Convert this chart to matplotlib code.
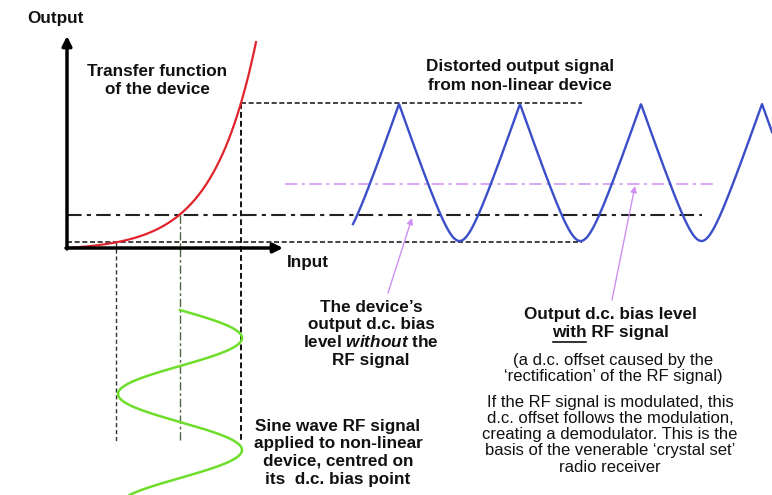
import numpy as np
import matplotlib.pyplot as plt

plt.rcParams['font.family'] = ['Liberation Sans', 'DejaVu Sans']
plt.rcParams['mathtext.fontset'] = 'custom'
plt.rcParams['mathtext.it'] = 'Liberation Sans:bold:italic'

# diagram geometry (pixel units, y grows downward)
axis_origin = (67, 248)
output_axis_top = 36
input_axis_end = 283

# transfer function: exponential through the three marked points
input_points = [116, 180, 241]          # bias - A, bias, bias + A
output_levels = [242, 215, 103]         # matching outputs
tf_gain = 2.7
tf_rate = 0.023
tf_end_x = 256

# RF input sine (drawn vertically below the input axis)
rf_start_y = 310
rf_period = 112
rf_amp = 62

# distorted output wave
out_start_x = 353
out_first_peak = 399
out_period = 121
out_peak_y = 104
out_trough_y = 241
avg_level = 184

guide_bottom = 442
dash_right = 582
dashdot_right = 702
avg_left, avg_right = 285, 713

red = '#e0242c'
blue = '#3a4ec8'
green = '#6ede2a'
violet = '#cf8ff0'

fig = plt.figure(figsize=(7.72, 4.95), dpi=100)
ax = fig.add_axes([0, 0, 1, 1])
ax.set_xlim(0, 772)
ax.set_ylim(495, 0)
ax.axis('off')

x0, y0 = axis_origin
x_lo, x_bias, x_hi = input_points
y_bot, y_bias, y_top = output_levels

# guide lines
ax.plot([x_hi, dash_right], [y_top, y_top], color='#222222', lw=1.2, ls=(0, (3, 1.6)))
ax.plot([x0, dash_right], [y_bot, y_bot], color='#222222', lw=1.2, ls=(0, (3, 1.6)))
ax.plot([x0, dashdot_right], [y_bias, y_bias], color='#222222', lw=1.5, ls=(0, (7, 2.5, 2, 2.5)))
ax.plot([avg_left, avg_right], [avg_level, avg_level], color=violet, lw=1.1, ls=(0, (8, 3, 2, 3)))
ax.plot([x_lo, x_lo], [y_bot, guide_bottom], color='#333333', lw=1.0, ls=(0, (3, 2)))
ax.plot([x_bias, x_bias], [y_bias, guide_bottom], color='#4d6640', lw=1.0, ls=(0, (6, 2, 2, 2)))
ax.plot([x_hi, x_hi], [y_top, guide_bottom], color='#111111', lw=1.4, ls=(0, (3, 1.6)))

# transfer function
tx = np.linspace(x0, tf_end_x, 200)
ty = y0 - tf_gain * (np.exp(tf_rate * (tx - x0)) - 1)
ax.plot(tx, ty, color=red, lw=1.6)

# RF sine wave
ry = np.linspace(rf_start_y, 495, 300)
rx = x_bias + rf_amp * np.sin(2 * np.pi * (ry - rf_start_y) / rf_period)
ax.plot(rx, ry, color=green, lw=1.8)

# distorted output: sharp peaks, rounded troughs
bx = np.linspace(out_start_x, 772, 800)
t = np.abs(((bx - out_first_peak) / out_period + 0.5) % 1 - 0.5) * 2
d = 1 - t
e = 0.25
h = (np.sqrt(d ** 2 + e ** 2) - e) / (np.sqrt(1 + e ** 2) - e)
by = out_trough_y - (out_trough_y - out_peak_y) * h
ax.plot(bx, by, color=blue, lw=1.7)

# axes with arrows
ax.annotate('', xy=(x0, output_axis_top), xytext=(x0, y0 + 1),
            arrowprops=dict(arrowstyle='-|>', color='black', lw=2.5, mutation_scale=14, shrinkA=0, shrinkB=0))
ax.annotate('', xy=(input_axis_end, y0), xytext=(x0 - 1, y0),
            arrowprops=dict(arrowstyle='-|>', color='black', lw=2.5, mutation_scale=14, shrinkA=0, shrinkB=0))

# pointer arrows
ax.annotate('', xy=(412, 218), xytext=(388, 293),
            arrowprops=dict(arrowstyle='-|>', color=violet, lw=1.0, mutation_scale=9, shrinkA=0, shrinkB=0))
ax.annotate('', xy=(635, 186), xytext=(612, 300),
            arrowprops=dict(arrowstyle='-|>', color=violet, lw=1.0, mutation_scale=9, shrinkA=0, shrinkB=0))

fs_bold = 12.3
fs_reg = 12
bold = dict(fontsize=fs_bold, fontweight='bold', color='#111111', ha='center', va='center')
ax.text(55, 19, 'Output', **bold)
ax.text(308, 262, 'Input', **bold)
ax.text(157, 72, 'Transfer function', **bold)
ax.text(157, 90, 'of the device', **bold)
ax.text(520, 67, 'Distorted output signal', **bold)
ax.text(520, 85, 'from non-linear device', **bold)

left_lines = ["The device\u2019s", 'output d.c. bias', r'level $\mathit{without}$ the', 'RF signal']
for i, s in enumerate(left_lines):
    ax.text(371, 307 + 17.7 * i, s, **bold)

rf_lines = ['Sine wave RF signal', 'applied to non-linear', 'device, centred on', 'its  d.c. bias point']
for i, s in enumerate(rf_lines):
    ax.text(338, 426 + 17.7 * i, s, **bold)

ax.text(610, 315, 'Output d.c. bias level', **bold)
w2 = ax.text(610, 333, 'with RF signal', **bold)
fig.canvas.draw()
r = fig.canvas.get_renderer()
bb = w2.get_window_extent(r)
tmp = ax.text(0, 0, 'with', fontsize=fs_bold, fontweight='bold')
wb = tmp.get_window_extent(r)
tmp.remove()
inv = ax.transData.inverted()
lx = inv.transform((bb.x0 + 1.5, 0))[0]
rx_ = inv.transform((bb.x0 + wb.width, 0))[0]
ax.plot([lx, rx_], [342, 342], color='#111111', lw=1.2)

reg = dict(fontsize=fs_reg, color='#111111', ha='center', va='center')
ax.text(613, 361, '(a d.c. offset caused by the', **reg)
ax.text(613, 377, '\u2018rectification\u2019 of the RF signal)', **reg)
note = ['If the RF signal is modulated, this', 'd.c. offset follows the modulation,',
        'creating a demodulator. This is the', 'basis of the venerable \u2018crystal set\u2019',
        'radio receiver']
for i, s in enumerate(note):
    ax.text(610, 402 + 16.3 * i, s, **reg)

fig.savefig('out.png', dpi=100)
